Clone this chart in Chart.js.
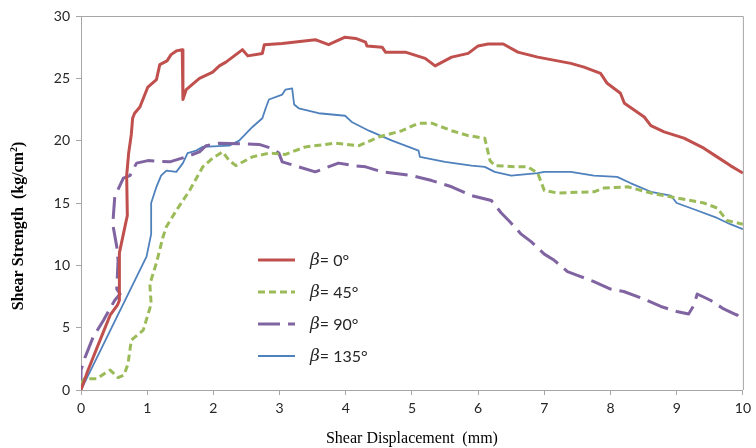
<!DOCTYPE html>
<html>
<head>
<meta charset="utf-8">
<script src="https://cdn.jsdelivr.net/npm/chart.js@4.4.1/dist/chart.umd.min.js"></script>
<style>
  html, body { margin: 0; padding: 0; background: #ffffff; }
  #wrap { width: 756px; height: 448px; }
</style>
</head>
<body>
<div id="wrap"><canvas id="c" width="756" height="448"></canvas></div>
<script>
// ---- Data ----
const seriesLabels = ['0°', '45°', '90°', '135°'];
const xTickValues = [0, 1, 2, 3, 4, 5, 6, 7, 8, 9, 10];
const yTickValues = [0, 5, 10, 15, 20, 25, 30];

const beta0X = [0, 0.1, 0.25, 0.44, 0.55, 0.58, 0.58, 0.66, 0.70, 0.69, 0.72, 0.76, 0.78, 0.81, 0.89, 0.95, 1.01, 1.14, 1.19, 1.30, 1.36, 1.44, 1.53, 1.54, 1.59, 1.70, 1.79, 1.99, 2.09, 2.19, 2.39, 2.44, 2.52, 2.74, 2.77, 3.04, 3.54, 3.74, 3.99, 4.15, 4.30, 4.32, 4.55, 4.60, 4.90, 5.20, 5.35, 5.60, 5.85, 6.00, 6.15, 6.38, 6.60, 6.90, 7.40, 7.60, 7.85, 7.95, 8.15, 8.21, 8.51, 8.61, 8.81, 9.11, 9.41, 9.61, 9.81, 10.0];
const beta0Y = [0, 1.5, 3.5, 6.0, 6.8, 7.2, 11.0, 13.0, 14.0, 17.2, 19.0, 20.5, 21.8, 22.2, 22.7, 23.5, 24.3, 24.9, 26.1, 26.4, 26.9, 27.2, 27.3, 23.3, 24.1, 24.6, 25.0, 25.5, 26.0, 26.3, 27.1, 27.3, 26.8, 27.0, 27.7, 27.8, 28.1, 27.7, 28.3, 28.2, 27.9, 27.6, 27.5, 27.1, 27.1, 26.6, 26.0, 26.7, 27.0, 27.6, 27.75, 27.75, 27.1, 26.7, 26.2, 25.9, 25.4, 24.6, 23.8, 23.0, 21.9, 21.2, 20.7, 20.2, 19.4, 18.7, 18.0, 17.4];

const beta45X = [0, 0.05, 0.24, 0.35, 0.44, 0.56, 0.65, 0.71, 0.76, 0.94, 1.06, 1.04, 1.14, 1.24, 1.29, 1.44, 1.64, 1.84, 1.99, 2.14, 2.24, 2.34, 2.59, 2.84, 3.09, 3.39, 3.84, 4.20, 4.50, 4.85, 5.10, 5.30, 5.60, 5.85, 6.10, 6.18, 6.25, 6.60, 6.75, 6.90, 7.00, 7.20, 7.75, 7.90, 8.26, 8.61, 9.00, 9.41, 9.61, 9.76, 10.0];
const beta45Y = [0.5, 0.9, 0.9, 1.3, 1.6, 1.0, 1.2, 2.1, 4.0, 4.8, 6.9, 8.5, 10.2, 12.3, 13.1, 14.4, 16.0, 17.9, 18.6, 19.1, 18.4, 18.0, 18.7, 19.0, 18.9, 19.5, 19.8, 19.6, 20.3, 20.8, 21.4, 21.4, 20.8, 20.4, 20.2, 18.4, 18.0, 17.9, 17.9, 17.4, 16.0, 15.8, 15.9, 16.2, 16.3, 15.8, 15.4, 15.0, 14.6, 13.6, 13.3];

const beta90X = [0, 0, 0.06, 0.18, 0.34, 0.51, 0.59, 0.54, 0.56, 0.54, 0.48, 0.51, 0.64, 0.74, 0.84, 1.01, 1.34, 1.59, 1.79, 1.89, 2.09, 2.69, 2.87, 2.99, 3.04, 3.29, 3.54, 3.69, 3.89, 4.12, 4.30, 4.55, 5.00, 5.30, 5.60, 5.90, 6.20, 6.35, 6.48, 6.65, 6.80, 7.00, 7.15, 7.35, 7.50, 7.75, 8.00, 8.20, 8.50, 8.76, 9.00, 9.18, 9.26, 9.31, 9.51, 9.71, 9.91, 10.0];
const beta90Y = [0.2, 1.6, 2.6, 4.2, 5.6, 7.2, 7.7, 8.1, 10.4, 11.5, 13.3, 15.5, 17.0, 17.2, 18.2, 18.4, 18.3, 18.7, 19.1, 19.6, 19.8, 19.7, 19.4, 19.0, 18.3, 17.9, 17.5, 17.8, 18.2, 18.0, 17.9, 17.5, 17.2, 16.8, 16.3, 15.6, 15.2, 14.2, 13.5, 12.5, 11.9, 10.9, 10.4, 9.5, 9.2, 8.7, 8.1, 7.9, 7.3, 6.7, 6.3, 6.1, 6.8, 7.7, 7.2, 6.5, 6.0, 6.5];

const beta135X = [0, 0.99, 1.06, 1.06, 1.14, 1.21, 1.29, 1.44, 1.54, 1.61, 1.74, 1.84, 2.24, 2.39, 2.59, 2.74, 2.79, 2.84, 3.04, 3.09, 3.19, 3.22, 3.29, 3.59, 3.99, 4.09, 4.35, 4.70, 5.10, 5.12, 5.50, 5.90, 6.10, 6.25, 6.50, 6.90, 7.00, 7.40, 7.75, 8.10, 8.30, 8.61, 8.91, 9.00, 9.31, 9.61, 9.81, 10.0];
const beta135Y = [0, 10.7, 12.5, 15.0, 16.3, 17.2, 17.6, 17.5, 18.2, 19.0, 19.2, 19.5, 19.6, 20.0, 21.1, 21.8, 22.6, 23.3, 23.7, 24.1, 24.2, 22.9, 22.6, 22.2, 22.0, 21.5, 20.8, 20.0, 19.2, 18.7, 18.3, 18.0, 17.9, 17.5, 17.2, 17.4, 17.5, 17.5, 17.2, 17.1, 16.6, 15.9, 15.6, 15.0, 14.4, 13.8, 13.3, 12.9];

// ---- Styles ----
const colors = ['#C0504D', '#9BBB59', '#8064A2', '#4F81BD'];
const widths = [3, 3, 3, 1.8];
const dashes = [[], [7, 4], [22, 8], []];
const axisGray = '#A6A6A6';
const tickFont = { family: 'Lato, "Open Sans", sans-serif', size: 14 };

function pts(xs, ys) { return xs.map((x, i) => ({ x: x, y: ys[i] })); }
const allX = [beta0X, beta45X, beta90X, beta135X];
const allY = [beta0Y, beta45Y, beta90Y, beta135Y];

const datasets = seriesLabels.map((lab, i) => ({
  label: 'β= ' + lab,
  data: pts(allX[i], allY[i]),
  borderColor: colors[i],
  backgroundColor: colors[i],
  borderWidth: widths[i],
  borderDash: dashes[i],
  borderJoinStyle: 'round',
  pointRadius: 0,
  tension: 0,
  fill: false
}));

const framePlugin = {
  id: 'frame',
  afterDatasetsDraw(chart) {
    const a = chart.chartArea, ctx = chart.ctx;
    ctx.save();
    ctx.strokeStyle = axisGray;
    ctx.lineWidth = 1;
    ctx.beginPath();
    ctx.moveTo(a.left, a.top + 0.5);
    ctx.lineTo(a.right + 0.5, a.top + 0.5);
    ctx.lineTo(a.right + 0.5, a.bottom);
    ctx.stroke();
    ctx.restore();
  }
};

const legendPlugin = {
  id: 'innerLegend',
  afterDatasetsDraw(chart) {
    const ctx = chart.ctx;
    const x0 = 258, x1 = 295, tx = 310;
    const ys = [260, 292, 324, 356];
    ctx.save();
    seriesLabels.forEach((lab, i) => {
      ctx.beginPath();
      ctx.strokeStyle = colors[i];
      ctx.lineWidth = widths[i];
      ctx.setLineDash(dashes[i]);
      ctx.moveTo(x0, ys[i]);
      ctx.lineTo(x1, ys[i]);
      ctx.stroke();
      ctx.setLineDash([]);
      ctx.fillStyle = '#262626';
      ctx.textBaseline = 'middle';
      ctx.textAlign = 'left';
      ctx.font = 'italic 17px "DejaVu Serif", serif';
      ctx.fillText('β', tx, ys[i] + 1);
      const bw = ctx.measureText('β').width;
      ctx.font = '16px Lato, "Open Sans", sans-serif';
      ctx.fillText('= ' + lab, tx + bw, ys[i] + 1);
    });
    ctx.restore();
  }
};

const yTitlePlugin = {
  id: 'yTitle',
  afterDraw(chart) {
    const ctx = chart.ctx;
    ctx.save();
    ctx.translate(19, 226);
    ctx.rotate(-Math.PI / 2);
    ctx.fillStyle = '#000000';
    ctx.textBaseline = 'middle';
    const main = 'Shear Strength  (kg/cm';
    ctx.font = 'bold 16px "Liberation Serif", serif';
    const w1 = ctx.measureText(main).width;
    ctx.font = 'bold 10px "Liberation Serif", serif';
    const w2 = ctx.measureText('2').width;
    ctx.font = 'bold 16px "Liberation Serif", serif';
    const w3 = ctx.measureText(')').width;
    const total = w1 + w2 + w3;
    let x = -total / 2;
    ctx.textAlign = 'left';
    ctx.fillText(main, x, 0);
    x += w1;
    ctx.font = 'bold 10px "Liberation Serif", serif';
    ctx.fillText('2', x, -5);
    x += w2;
    ctx.font = 'bold 16px "Liberation Serif", serif';
    ctx.fillText(')', x, 0);
    ctx.restore();
  }
};

new Chart(document.getElementById('c'), {
  type: 'line',
  data: { datasets: datasets },
  plugins: [framePlugin, legendPlugin, yTitlePlugin],
  options: {
    responsive: false,
    animation: false,
    parsing: true,
    layout: { padding: { left: 0, right: 10, top: 16, bottom: 0 } },
    plugins: { legend: { display: false }, tooltip: { enabled: false } },
    scales: {
      x: {
        type: 'linear',
        min: xTickValues[0],
        max: xTickValues[xTickValues.length - 1],
        afterBuildTicks(s) { s.ticks = xTickValues.map(v => ({ value: v })); },
        afterFit(s) { s.height = 58; },
        ticks: { font: tickFont, color: '#262626', padding: 5, maxRotation: 0 },
        grid: { drawOnChartArea: false, drawTicks: true, tickLength: 5, color: axisGray },
        border: { display: true, color: axisGray, width: 1 },
        title: {
          display: true,
          text: 'Shear Displacement  (mm)',
          font: { family: '"Liberation Serif", serif', size: 16 },
          color: '#000000',
          padding: { top: 2, bottom: 0 }
        }
      },
      y: {
        type: 'linear',
        min: yTickValues[0],
        max: yTickValues[yTickValues.length - 1],
        afterBuildTicks(s) { s.ticks = yTickValues.map(v => ({ value: v })); },
        afterFit(s) { s.width = 81; },
        ticks: { font: tickFont, color: '#262626', padding: 6 },
        grid: { drawOnChartArea: false, drawTicks: true, tickLength: 5, color: axisGray },
        border: { display: true, color: axisGray, width: 1 }
      }
    }
  }
});
</script>
</body>
</html>
